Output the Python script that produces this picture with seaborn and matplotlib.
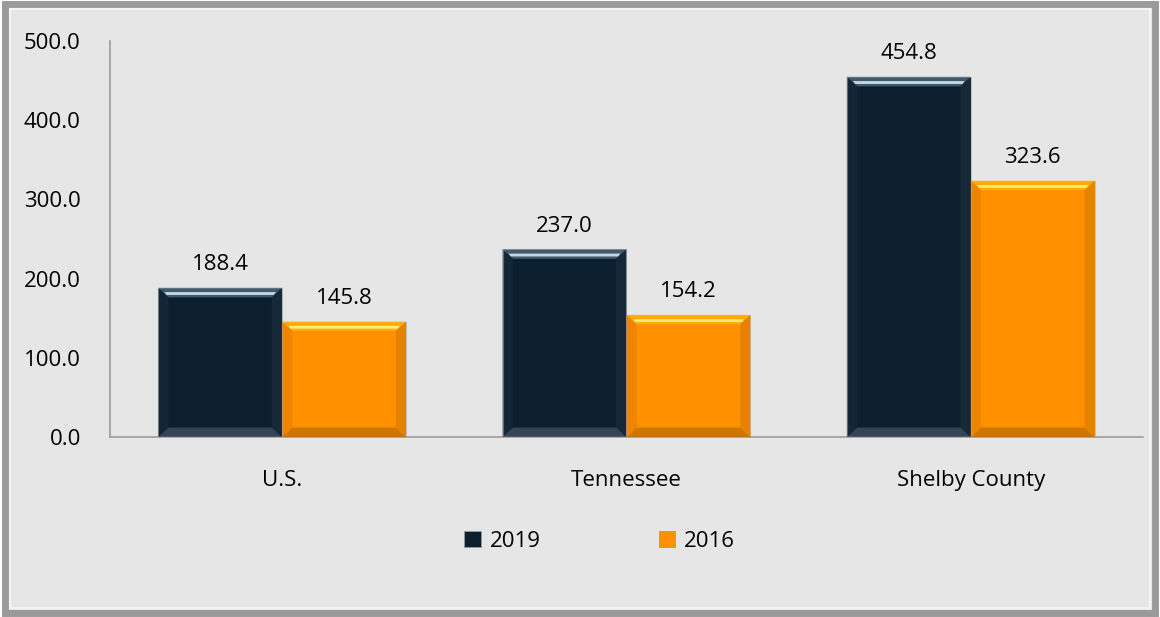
import numpy as np
import pandas as pd
import matplotlib
matplotlib.use('Agg')
import matplotlib.pyplot as plt
import seaborn as sns
from matplotlib.patches import Polygon, Rectangle, Patch

# --- data ---
regions = ['U.S.', 'Tennessee', 'Shelby County']
years = ['2019', '2016']
rate_2019 = [188.4, 237.0, 454.8]
rate_2016 = [145.8, 154.2, 323.6]
y_ticks = [0, 100, 200, 300, 400, 500]

bar_colors = ['#0c1f2e', '#ff9100']
bg = '#e6e6e6'

df = pd.DataFrame({
    'region': regions * 2,
    'year': [years[0]] * 3 + [years[1]] * 3,
    'rate': rate_2019 + rate_2016,
})

sns.set_style('white')
plt.rcParams['font.family'] = ['Open Sans', 'DejaVu Sans']
plt.rcParams['text.color'] = 'black'
plt.rcParams['xtick.color'] = 'black'
plt.rcParams['ytick.color'] = 'black'

fig = plt.figure(figsize=(11.6, 6.17), dpi=100, facecolor='white')
# panel background + bevelled frame (behind the axes)
fig.patches.append(Rectangle((0.004, 0.006), 0.992, 0.988, transform=fig.transFigure,
                             facecolor=bg, edgecolor='#9a9a9a', linewidth=5, zorder=-2))
fig.patches.append(Rectangle((0.009, 0.015), 0.982, 0.971, transform=fig.transFigure,
                             facecolor='none', edgecolor='#f4f4f4', linewidth=1.5, zorder=-1))

ax = fig.add_axes([0.0948, 0.2917, 0.8905, 0.6418])
ax.set_facecolor(bg)
ax.patch.set_alpha(0)

sns.barplot(data=df, x='region', y='rate', hue='year', hue_order=years,
            palette=bar_colors, saturation=1, width=0.72, ax=ax,
            edgecolor='#c4c4c4', linewidth=0.8, legend=False)

# bevel overlay on each bar, from the bar patches themselves
# (top, highlight streak, sides, bottom)
bevel_cols = {
    bar_colors[0]: ('#4a6478', '#d2e6f4', '#1a2c3c', '#3d4f60'),
    bar_colors[1]: ('#ffb000', '#fff08a', '#e27e00', '#c46e00'),
}
bx, by = 0.03, 12
for cont, col in zip(ax.containers, bar_colors):
    top_c, hi_c, side_c, bot_c = bevel_cols[col]
    for bar in cont:
        x0, w, h = bar.get_x(), bar.get_width(), bar.get_height()
        x1 = x0 + w
        ax.add_patch(Polygon([(x0, h), (x1, h), (x1 - bx, h - by), (x0 + bx, h - by)],
                             facecolor=top_c, edgecolor='none', alpha=0.85, zorder=3))
        ax.add_patch(Polygon([(x0 + bx * 0.6, h - by * 0.45), (x1 - bx * 0.6, h - by * 0.45),
                              (x1 - bx * 0.8, h - by * 0.75), (x0 + bx * 0.8, h - by * 0.75)],
                             facecolor=hi_c, edgecolor='none', alpha=0.9, zorder=3))
        ax.add_patch(Polygon([(x0, 0), (x1, 0), (x1 - bx, by), (x0 + bx, by)],
                             facecolor=bot_c, edgecolor='none', alpha=0.8, zorder=3))
        ax.add_patch(Polygon([(x0, 0), (x0 + bx, by), (x0 + bx, h - by), (x0, h)],
                             facecolor=side_c, edgecolor='none', alpha=0.6, zorder=3))
        ax.add_patch(Polygon([(x1, 0), (x1 - bx, by), (x1 - bx, h - by), (x1, h)],
                             facecolor=side_c, edgecolor='none', alpha=0.8, zorder=3))
    ax.bar_label(cont, fmt='%.1f', padding=9, fontsize=16, color='black')

ax.set_ylim(0, 500)
ax.set_yticks(y_ticks)
ax.set_yticklabels([f'{v:.1f}' for v in y_ticks])
ax.set_xlim(-0.5, 2.5)
ax.set_xlabel('')
ax.set_ylabel('')
ax.tick_params(axis='y', length=0, pad=21, labelsize=16)
ax.tick_params(axis='x', length=0, pad=24, labelsize=16)
for side in ['top', 'right']:
    ax.spines[side].set_visible(False)
for side in ['left', 'bottom']:
    ax.spines[side].set_color('#9c9c9c')
    ax.spines[side].set_linewidth(1.2)

handles = [Patch(facecolor=c, edgecolor='#9a9a9a', linewidth=0.6) for c in bar_colors]
fig.legend(handles, years, loc='center', bbox_to_anchor=(0.517, 0.123), ncol=2,
           frameon=False, fontsize=16, handlelength=0.75, handleheight=0.75,
           handletextpad=0.4, columnspacing=5.3)

fig.savefig('out.png', dpi=100, facecolor=fig.get_facecolor())
